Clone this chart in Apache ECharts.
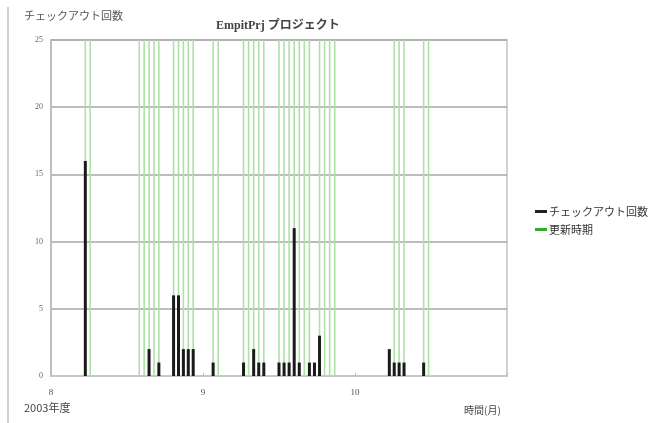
<!DOCTYPE html>
<html>
<head>
<meta charset="utf-8">
<script src="https://cdn.jsdelivr.net/npm/echarts@6/dist/echarts.min.js"></script>
<style>
html,body{margin:0;padding:0;background:#fff;}
#chart{width:658px;height:423px;}
</style>
</head>
<body>
<div id="chart"></div>
<script>
// ---- data (2003, month/day) ----
const checkoutDates = ['8/8','8/21','8/23','8/26','8/27','8/28','8/29','8/30',
  '9/3','9/9','9/11','9/12','9/13','9/16','9/17','9/18','9/19','9/20','9/22','9/23','9/24',
  '10/8','10/9','10/10','10/11','10/15'];
const checkoutCounts = [16,2,1,6,6,2,2,2,
  1,1,2,1,1,1,1,1,11,1,1,1,3,
  2,1,1,1,1];
const updateDates = ['8/8','8/9','8/19','8/20','8/21','8/22','8/23','8/26','8/27','8/28','8/29','8/30',
  '9/3','9/4','9/9','9/10','9/11','9/12','9/13','9/16','9/17','9/18','9/19','9/20',
  '9/21','9/22','9/24','9/25','9/26','9/27',
  '10/9','10/10','10/11','10/15','10/16'];
const monthTicks = [8, 9, 10];
const yMax = 25;
const seriesNames = ['チェックアウト回数', '更新時期'];
const chartTitle = 'EmpitPrj プロジェクト';
const yTitle = 'チェックアウト回数';
const xTitle = '時間(月)';
const yearLabel = '2003年度';

const daysIn = {8:31, 9:30, 10:31, 11:30};
function toMonth(s){
  const [m, d] = s.split('/').map(Number);
  return m + (d - 1) / daysIn[m];
}

const chart = echarts.init(document.getElementById('chart'), null, {renderer:'canvas'});
const jp = "'Noto Sans CJK JP', 'Noto Sans', sans-serif";
const xAxisBase = {
  type:'value', min: monthTicks[0], max: monthTicks[monthTicks.length-1] + 1, interval: 1,
  splitLine:{show:false}
};
chart.setOption({
  animation:false,
  grid:{left:51, top:40, right:151, bottom:47, show:true, borderColor:'#c4c4c4', borderWidth:1.5},
  legend:{
    orient:'vertical', left:530, top:201, itemWidth:12, itemHeight:3, itemGap:7,
    icon:'rect',
    textStyle:{fontSize:11, color:'#333', fontFamily:jp, padding:[0,0,0,-3]},
    data:[
      {name:seriesNames[0], itemStyle:{color:'#222'}},
      {name:seriesNames[1], itemStyle:{color:'#2fae2f'}}
    ]
  },
  xAxis:[
    Object.assign({}, xAxisBase, {
      axisLine:{show:true, lineStyle:{color:'#c8c8c8', width:2}},
      axisTick:{show:true, inside:true, length:3, lineStyle:{color:'#bbb'}},
      axisLabel:{margin:12, fontSize:9, color:'#555', fontFamily:"'Liberation Serif', serif",
        formatter:v => monthTicks.indexOf(v) >= 0 ? String(v) : ''}
    }),
    Object.assign({}, xAxisBase, {show:false})
  ],
  yAxis:{
    type:'value', min:0, max:yMax, interval:5,
    axisLine:{show:true, lineStyle:{color:'#bdbdbd', width:2}},
    axisTick:{show:false},
    axisLabel:{margin:8, fontSize:8, color:'#666', fontFamily:"'Liberation Serif', serif"},
    splitLine:{show:true, lineStyle:{color:'#a6a6a6', width:1.5}}
  },
  series:[
    {
      name:seriesNames[1], type:'bar', xAxisIndex:1, barWidth:1.6, z:1,
      itemStyle:{color:'#b0e0aa'},
      data:updateDates.map(d => [toMonth(d), yMax])
    },
    {
      name:seriesNames[0], type:'bar', xAxisIndex:0, barWidth:3, z:3,
      itemStyle:{color:'#1a1a1a'},
      data:checkoutDates.map((d,i) => [toMonth(d), checkoutCounts[i]])
    }
  ],
  graphic:[
    {type:'line', shape:{x1:8, y1:7, x2:8, y2:423}, style:{stroke:'#cfcfcf', lineWidth:2}},
    {type:'text', left:24, top:10, style:{text:yTitle, fontSize:11, fill:'#555', fontFamily:jp}},
    {type:'text', left:216, top:20, style:{text:chartTitle, fontSize:12, fontWeight:'bold', fill:'#444', fontFamily:"'Liberation Serif', 'Noto Sans CJK JP', serif"}},
    {type:'text', left:24, top:402, style:{text:yearLabel, fontSize:11, fill:'#444', fontFamily:jp}},
    {type:'text', left:464, top:405, style:{text:xTitle, fontSize:10, fill:'#444', fontFamily:jp}}
  ]
});
</script>
</body>
</html>
